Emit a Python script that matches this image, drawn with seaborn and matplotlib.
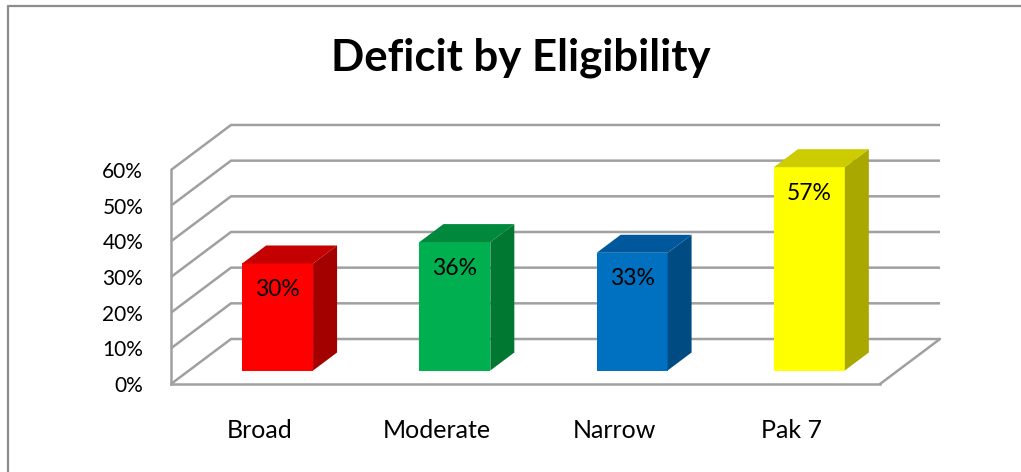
import matplotlib
matplotlib.use("Agg")
import matplotlib.pyplot as plt
from matplotlib.patches import Polygon
from matplotlib.lines import Line2D
import seaborn as sns

# ---- data ----
categories = ["Broad", "Moderate", "Narrow", "Pak 7"]
values = [30, 36, 33, 57]
ytick_values = [0, 10, 20, 30, 40, 50, 60]
ytick_labels = ["0%", "10%", "20%", "30%", "40%", "50%", "60%"]
title = "Deficit by Eligibility"

front_colors = ["#FF0000", "#00B050", "#0070C0", "#FFFF00"]
side_colors = ["#A30000", "#007832", "#004C82", "#A8A800"]
top_colors = ["#C40000", "#00883C", "#00589C", "#CCCC00"]

sns.set_style("white")
plt.rcParams["font.family"] = ["Lato", "DejaVu Sans"]

W, H = 1021, 472
fig = plt.figure(figsize=(W / 100, H / 100), dpi=100)
fig.patch.set_facecolor("white")

# outer border (top and left)
border_c = "#8C8C8C"
fig.add_artist(Line2D([7.5 / W, 7.5 / W], [0, 1 - 5.5 / H], color=border_c, lw=1.6,
                      transform=fig.transFigure))
fig.add_artist(Line2D([7.5 / W, 1], [1 - 5.5 / H, 1 - 5.5 / H], color=border_c, lw=1.6,
                      transform=fig.transFigure))

# pixel scales of the front plane
PX_X = 177.25   # px per category
PX_Y = 3.567    # px per percent
DX = 60 / PX_X  # full floor depth offset (x, data units)
DY = 45 / PX_Y  # full floor depth offset (y, data units)

ax = fig.add_axes([171 / W, 88 / H, 769 / W, 260 / H])
ax.set_facecolor("none")

sns.barplot(x=categories, y=values, hue=categories, palette=front_colors,
            legend=False, width=0.4, saturation=1, ax=ax, zorder=3)

ax.set_xlim(-0.5, -0.5 + 769 / PX_X)
ax.set_ylim(0, 260 / PX_Y)

grid_c = "#A0A0A0"
lw = 1.8
n = len(categories)
# gridlines on left wall + back wall
for v in ytick_values:
    ax.plot([-0.5, -0.5 + DX, n - 0.5 + DX], [v, v + DY, v + DY],
            color=grid_c, lw=lw, clip_on=False, zorder=1, solid_capstyle="butt")
# floor right edge
ax.plot([n - 0.5, n - 0.5 + DX], [0, DY], color=grid_c, lw=lw, clip_on=False, zorder=1)

# 3D bars: front face at depth 0.3, bar depth 0.4
d_front, d_bar = 0.3, 0.4
bdx, bdy = d_bar * DX, d_bar * DY
patches = sorted(ax.patches, key=lambda p: p.get_x())
for i, p in enumerate(patches):
    p.set_x(p.get_x() + d_front * DX)
    p.set_y(p.get_y() + d_front * DY)
    p.set_linewidth(0)
    x0 = p.get_x()
    x1 = x0 + p.get_width()
    y0 = p.get_y()
    y1 = y0 + p.get_height()
    side = Polygon([(x1, y0), (x1 + bdx, y0 + bdy), (x1 + bdx, y1 + bdy), (x1, y1)],
                   closed=True, facecolor=side_colors[i], edgecolor="none", zorder=3)
    top = Polygon([(x0, y1), (x0 + bdx, y1 + bdy), (x1 + bdx, y1 + bdy), (x1, y1)],
                  closed=True, facecolor=top_colors[i], edgecolor="none", zorder=3)
    ax.add_patch(side)
    ax.add_patch(top)
    ax.text((x0 + x1) / 2, y1 - 26 / PX_Y, f"{values[i]}%", ha="center", va="center",
            fontsize=16.5, color="black", zorder=4)

# spines
for s in ["top", "right"]:
    ax.spines[s].set_visible(False)
ax.spines["left"].set_bounds(0, 60)
ax.spines["bottom"].set_bounds(-0.5, n - 0.5)
for s in ["left", "bottom"]:
    ax.spines[s].set_color(grid_c)
    ax.spines[s].set_linewidth(lw)
    ax.spines[s].set_zorder(2)

ax.set_yticks(ytick_values)
ax.set_yticklabels(ytick_labels)
ax.tick_params(axis="y", direction="out", length=6.5, width=lw, color=grid_c,
               pad=13.5, labelsize=15, labelcolor="black")
ax.set_xticks(range(n))
ax.set_xticklabels(categories)
ax.set_xticks([i - 0.5 for i in range(n + 1)], minor=True)
ax.tick_params(axis="x", which="major", length=0, pad=25, labelsize=18, labelcolor="black")
ax.tick_params(axis="x", which="minor", direction="out", length=5.8, width=lw, color=grid_c)
ax.set_xlabel("")
ax.set_ylabel("")
ax.grid(False)

fig.text(521 / W, 1 - 58 / H, title, ha="center", va="center",
         fontsize=31.5, fontweight="bold", color="black")

fig.savefig("out.png", dpi=100)
